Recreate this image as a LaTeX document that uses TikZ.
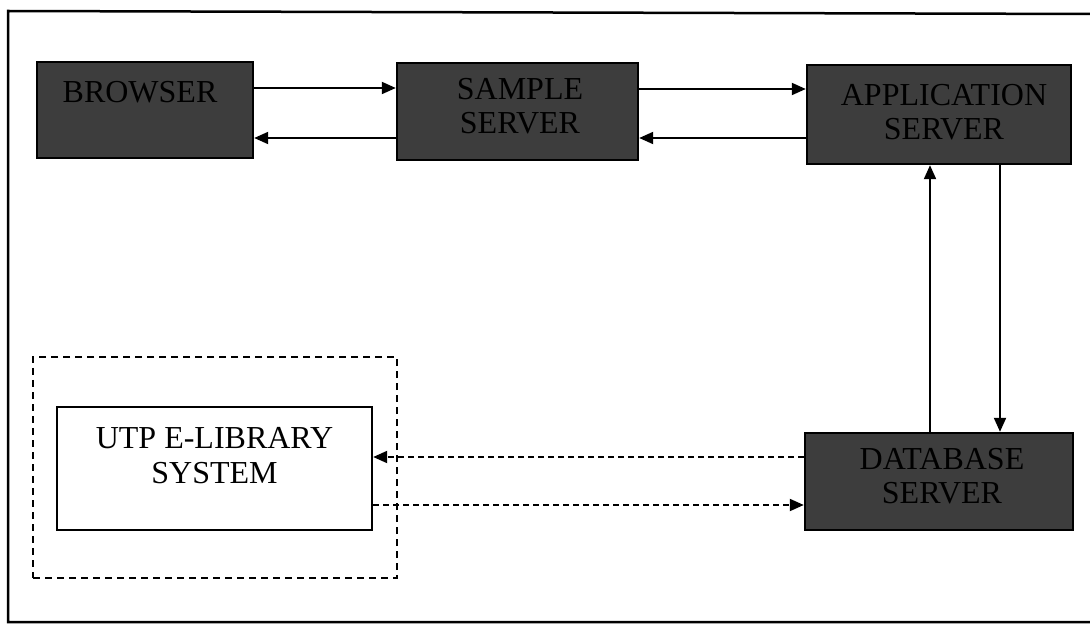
\documentclass[tikz,border=0pt]{standalone}
\usepackage{fontspec}
\setmainfont{Liberation Serif}
\usetikzlibrary{arrows.meta}
\begin{document}
\begin{tikzpicture}[x=1pt,y=-1pt,
  darkbox/.style={draw=black,line width=2.4pt,fill=black!76,inner sep=0pt},
  plainbox/.style={draw=black,line width=2.4pt,fill=white,inner sep=0pt},
  darktext/.style={text=black,font=\fontsize{32}{34}\selectfont,align=center,inner sep=0pt},
  boxtext/.style={text=black,font=\fontsize{32}{35}\selectfont,align=center,inner sep=0pt},
  arr/.style={line width=2pt,-{Triangle[length=14pt,width=12pt]}},
  darr/.style={arr,dash pattern=on 6pt off 4pt},
  dashframe/.style={draw=black,line width=2pt,dash pattern=on 7pt off 5pt}]
\useasboundingbox (0,0) rectangle (1090,628);
% outer frame
\draw[line width=2.5pt] (1095,14) -- (8,11) -- (8,622) -- (1095,622);
% boxes
\node[darkbox,minimum width=216pt,minimum height=96pt] (browser) at (145,110) {};
\node[darkbox,minimum width=241pt,minimum height=97pt] (sample) at (517.5,111.5) {};
\node[darkbox,minimum width=264pt,minimum height=99pt] (app) at (939,114.5) {};
\node[darkbox,minimum width=268pt,minimum height=97pt] (db) at (939,481.5) {};
\node[dashframe,minimum width=364pt,minimum height=221pt] (frame) at (215,467.5) {};
\node[plainbox,minimum width=315pt,minimum height=123pt] (utp) at (214.5,468.5) {};
% texts
\node[darktext] (browsertext) at (140,92) {BROWSER};
\node[darktext] (sampletext) at (520,106) {SAMPLE\\SERVER};
\node[darktext] (apptext) at (944,112) {APPLICATION\\SERVER};
\node[darktext] (dbtext) at (942,476) {DATABASE\\SERVER};
\node[boxtext] (utptext) at (214.5,456) {UTP E-LIBRARY\\SYSTEM};
% connectors
\draw[arr] (browser.east |- 0,88) -- (sample.west |- 0,88);
\draw[arr] (sample.west |- 0,138) -- (browser.east |- 0,138);
\draw[arr] (sample.east |- 0,89) -- (app.west |- 0,89);
\draw[arr] (app.west |- 0,138) -- (sample.east |- 0,138);
\draw[arr] (db.north -| 930,0) -- (app.south -| 930,0);
\draw[arr] (app.south -| 1000,0) -- (db.north -| 1000,0);
\draw[darr] (db.west |- 0,457) -- (utp.east |- 0,457);
\draw[darr] (utp.east |- 0,505) -- (db.west |- 0,505);
\end{tikzpicture}
\end{document}
